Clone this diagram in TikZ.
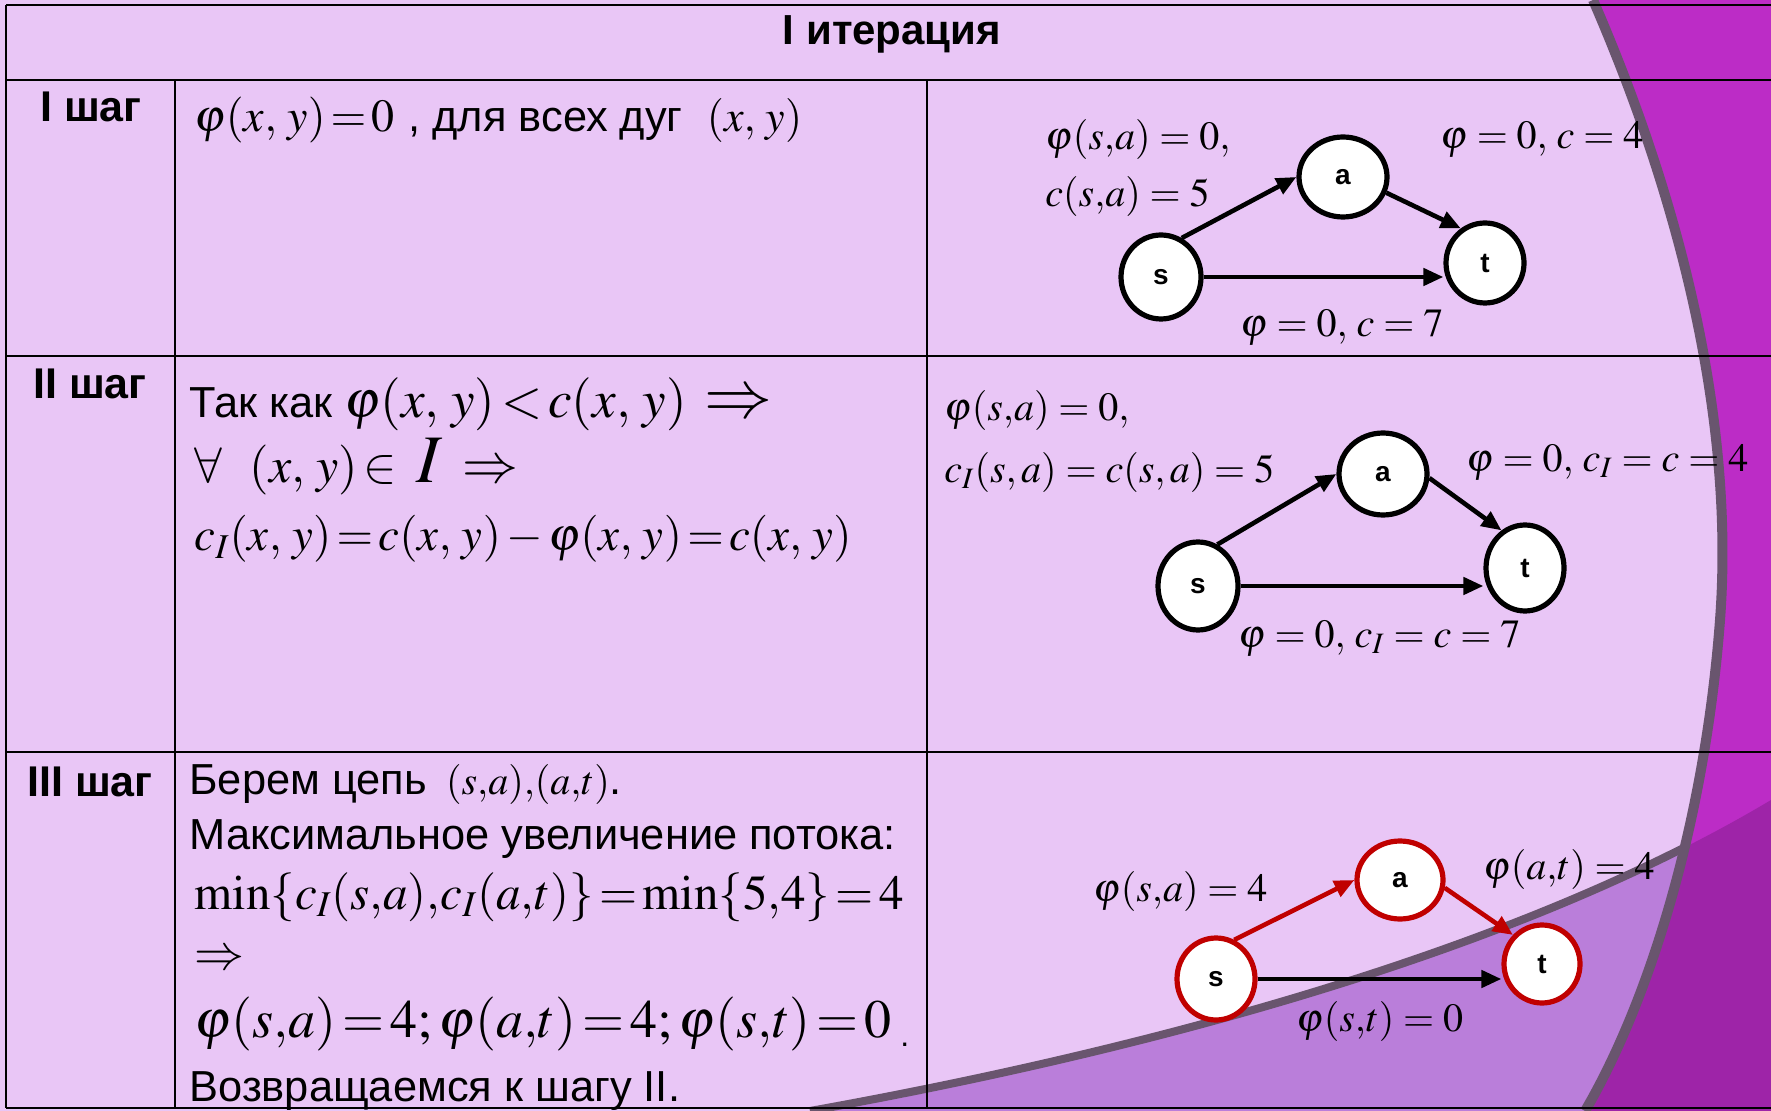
\documentclass[tikz,border=0pt]{standalone}
\usepackage{mathptmx}
\usepackage[no-math]{fontspec}
\newfontfamily\sansf{Liberation Sans}
\usetikzlibrary{arrows.meta,shapes.geometric}
\definecolor{lav}{RGB}{233,198,246}
\definecolor{magd}{RGB}{188,44,198}
\definecolor{magm}{RGB}{186,126,218}
\definecolor{magx}{RGB}{158,36,168}
\definecolor{bandc}{RGB}{105,85,110}
\definecolor{dred}{RGB}{192,0,0}
\newcommand{\fs}[1]{\fontsize{#1}{#1}\selectfont}
\begin{document}
\begin{tikzpicture}[x=0.5pt,y=-0.5pt,
  tline/.style={line width=1.3pt},
  vx/.style={ellipse, draw, fill=white, line width=2.6pt, inner sep=0pt, font=\sansf\bfseries\fs{14}},
  redvx/.style={vx, draw=dred},
  ed/.style={line width=2.3pt, -{Triangle[length=10pt,width=8.5pt]}},
  rededge/.style={ed, dred},
  lbl/.style={anchor=base west, inner sep=0pt, execute at begin node={\thickmuskip=2mu plus 1mu\medmuskip=2mu plus 1mu}},
  glbl/.style={anchor=base west, inner sep=0pt, font=\fs{20}},
  stepname/.style={anchor=base, inner sep=0pt, font=\sansf\bfseries\fs{21.5}},
  txt/.style={anchor=base west, inner sep=0pt, font=\sansf\fs{21.7}},
]
\useasboundingbox (0,0) rectangle (1771,1111);
\fill[lav] (0,0) rectangle (1771,1111);
% decoration
\fill[magm] (810,1111) .. controls (1150,1050) and (1520,950) .. (1771,800) -- (1771,1111) -- cycle;
\draw[bandc, line width=4pt] (810,1111) .. controls (1150,1050) and (1520,950) .. (1771,800);
\fill[magd] (1593,0) .. controls (1680,200) and (1735,420) .. (1720,620) .. controls (1705,820) and (1650,1000) .. (1585,1111) -- (1771,1111) -- (1771,0) -- cycle;
\begin{scope}
\clip (810,1111) .. controls (1150,1050) and (1520,950) .. (1771,800) -- (1771,1111) -- cycle;
\fill[magx] (1593,0) .. controls (1680,200) and (1735,420) .. (1720,620) .. controls (1705,820) and (1650,1000) .. (1585,1111) -- (1771,1111) -- (1771,0) -- cycle;
\end{scope}
\draw[bandc, line width=5pt] (1593,0) .. controls (1680,200) and (1735,420) .. (1720,620) .. controls (1705,820) and (1650,1000) .. (1585,1111);
% table
\draw[tline] (6,5) -- (1771,5);
\draw[tline] (6,80) -- (1771,80);
\draw[tline] (6,356) -- (1771,356);
\draw[tline] (6,752) -- (1771,752);
\draw[tline] (6,1108) -- (1771,1108);
\draw[tline] (6,5) -- (6,1108);
\draw[tline] (175,80) -- (175,1108);
\draw[tline] (927,80) -- (927,1108);
% header and step names
\node[anchor=base, inner sep=0pt, font=\sansf\bfseries\fs{21}] (hdr) at (892,45) {I итерация};
\node[stepname] (st1) at (91,122) {I шаг};
\node[stepname] (st2) at (90,399) {II шаг};
\node[stepname] (st3) at (90,796) {III шаг};
% row 1 text
\node[lbl] (r1t) at (194,132) {\fs{23}$\varphi(x,\,y)=0$ \sansf\fs{21.7}, для всех дуг \;\fs{22}$(x,\,y)$};
% row 2 text
\node[lbl] (r2a) at (189,418) {\sansf\fs{21.7}Так как \fs{26.5}$\varphi(x,\,y)<c(x,\,y)\mskip6mu\mbox{\fs{34}$\Rightarrow$}$};
\node[lbl] (r2b) at (194,483) {\fs{25}$\forall\mskip10mu(x,\,y)\in\mskip5mu\mbox{\fs{34}$I$}\mskip7mu\mbox{\fs{28}$\Rightarrow$}$};
\node[lbl] (r2c) at (194,551) {\fs{23.5}$c_I(x,\,y)=c(x,\,y)-\varphi(x,\,y)=c(x,\,y)$};
% row 3 text
\node[lbl] (r3a) at (189,794) {\sansf\fs{21.7}Берем цепь \,\fs{20}$(s{,}a){,}(a{,}t)$\fs{21.7}.};
\node[txt] (r3b) at (189,849) {Максимальное увеличение потока:};
\node[lbl] (r3c) at (194,909) {\fs{24.5}$\min\{c_I(s{,}a){,}c_I(a{,}t)\}=\min\{5{,}4\}=4$};
\node[lbl] (r3d) at (194,969) {\fs{25}$\Rightarrow$};
\node[lbl] (r3e) at (194,1037) {\fs{27}$\varphi(s{,}a)=4;\varphi(a{,}t)=4;\varphi(s{,}t)=0$};
\node[lbl] (r3f) at (900,1046) {\sansf\fs{16}.};
\node[txt] (r3g) at (189,1101) {Возвращаемся к шагу II.};
% graph row 1
\node[vx, minimum width=44pt, minimum height=40pt] (a1) at (1343,177) {a};
\node[vx, minimum width=40pt, minimum height=42pt] (s1) at (1161,277) {s};
\node[vx, minimum width=39pt, minimum height=40pt] (t1) at (1485,263) {t};
\draw[ed] (s1.62) -- (a1.west);
\draw[ed] (a1.-20) -- (t1.125);
\draw[ed] (s1.east) -- (s1.east -| t1.west);
\node[glbl] (l1a) at (1045,150) {$\varphi(s{,}a)=0,$};
\node[glbl] (l1b) at (1045,207) {$c(s{,}a)=5$};
\node[glbl] (l1c) at (1440,149) {$\varphi=0,\,c=4$};
\node[glbl] (l1d) at (1240,337) {$\varphi=0,\,c=7$};
% graph row 2
\node[vx, minimum width=44pt, minimum height=41pt] (a2) at (1383,474) {a};
\node[vx, minimum width=40pt, minimum height=44pt] (s2) at (1198,586) {s};
\node[vx, minimum width=39pt, minimum height=43pt] (t2) at (1525,568) {t};
\draw[ed] (s2.65) -- (a2.west);
\draw[ed] (a2.-5) -- (t2.122);
\draw[ed] (s2.east) -- (s2.east -| t2.west);
\node[glbl] (l2a) at (944,421) {$\varphi(s{,}a)=0,$};
\node[glbl] (l2b) at (944,483) {$c_I(s,a)=c(s,a)=5$};
\node[glbl] (l2c) at (1466,472) {$\varphi=0,\,c_I=c=4$};
\node[glbl] (l2d) at (1238,647) {$\varphi=0,\,c_I=c=7$};
% graph row 3
\node[redvx, minimum width=43pt, minimum height=39pt] (a3) at (1400,880) {a};
\node[redvx, minimum width=39pt, minimum height=41pt] (s3) at (1216,979) {s};
\node[redvx, minimum width=38pt, minimum height=39pt] (t3) at (1542,964) {t};
\draw[rededge] (s3.65) -- (a3.west);
\draw[rededge] (a3.-10) -- (t3.135);
\draw[ed] (s3.east) -- (s3.east -| t3.west);
\node[glbl] (l3a) at (1093,901) {$\varphi(s{,}a)=4$};
\node[glbl] (l3b) at (1483,879) {$\varphi(a{,}t)=4$};
\node[glbl] (l3c) at (1296,1031) {$\varphi(s{,}t)=0$};
\end{tikzpicture}
\end{document}
